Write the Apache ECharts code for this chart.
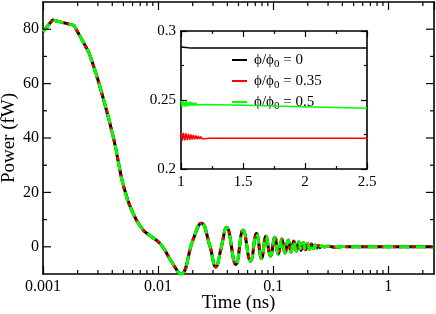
<!DOCTYPE html>
<html><head><meta charset="utf-8">
<script src="https://cdn.jsdelivr.net/npm/echarts@6/dist/echarts.min.js"></script>
<style>html,body{margin:0;padding:0;background:#fff}#c{width:436px;height:314px}</style>
</head><body><div id="c"></div>
<script>
// ---- main plot data (time in ns, power in fW) ----
const mainTime = [0.001, 0.00121, 0.00186, 0.00251, 0.00316, 0.0041, 0.00503, 0.00606, 0.0074, 0.0088, 0.0107, 0.0131, 0.0158, 0.0201, 0.0238, 0.0282, 0.0317, 0.0355, 0.0394, 0.0474, 0.0548, 0.0636, 0.0717, 0.0793, 0.0865, 0.0948, 0.1035, 0.111, 0.119, 0.127, 0.135, 0.143, 0.151, 0.159, 0.167, 0.175, 0.183, 0.191, 0.199, 0.207, 0.215, 0.223, 0.231, 0.239, 0.247, 0.255, 0.263, 0.28, 0.3, 0.35, 0.4, 0.5, 1.0, 2.5];
const mainPower = [79.1, 83.4, 81.4, 71.4, 58.2, 40, 22, 12.3, 6.2, 3.7, 0.6, -5.5, -10, 2.5, 8.7, 0.3, -7.4, 0.0, 7.2, -6.5, 6.2, -5.3, 4.9, -4.3, 3.9, -3.4, 3.5, -2.7, 2.9, -2.3, 2.5, -1.9, 2.1, -1.6, 1.8, -1.3, 1.5, -1.1, 1.2, -0.9, 1.0, -0.7, 0.7, -0.5, 0.5, -0.3, 0.3, 0, 0.2, -0.2, 0.1, 0, 0, 0];
const cornerCount = 4; // first samples joined by straight segments

// ---- inset data ----
const insetTimeBlack = [1.00, 1.01, 1.02, 1.03, 1.04, 1.05, 1.06, 1.08, 2.5];
const insetBlack = [0.2884, 0.2870, 0.2882, 0.2872, 0.2880, 0.2874, 0.2878, 0.2877, 0.2877];
const insetTimeRed = [1.00, 1.01, 1.02, 1.03, 1.04, 1.05, 1.06, 1.07, 1.08, 1.09, 1.10, 1.11, 1.12, 1.13, 1.14, 1.15, 1.16, 1.17, 1.18, 1.19, 1.20, 1.21, 1.22, 1.23, 1.24, 1.26, 1.5, 2.0, 2.5];
const insetRed = [0.2265, 0.2205, 0.2262, 0.2207, 0.2258, 0.2209, 0.2254, 0.2211, 0.2250, 0.2213, 0.2246, 0.2215, 0.2242, 0.2216, 0.2238, 0.2218, 0.2235, 0.2219, 0.2232, 0.2220, 0.2230, 0.2221, 0.2227, 0.2222, 0.2225, 0.2223, 0.2222, 0.2222, 0.2222];
const insetTimeGreen = [1.00, 1.01, 1.02, 1.03, 1.04, 1.05, 1.06, 1.07, 1.08, 1.09, 1.10, 1.11, 1.12, 1.13, 1.14, 1.15, 1.16, 1.17, 1.18, 1.20, 1.5, 2.0, 2.5];
const insetGreen = [0.2494, 0.2450, 0.2492, 0.2452, 0.2490, 0.2454, 0.2488, 0.2456, 0.2485, 0.2458, 0.2482, 0.2461, 0.2479, 0.2463, 0.2476, 0.2465, 0.2473, 0.2466, 0.2471, 0.2468, 0.2462, 0.2451, 0.2440];

// ---- ticks / labels ----
const xTickLabels = ['0.001', '0.01', '0.1', '1'];
const yTickLabels = [0, 20, 40, 60, 80];
const insetXLabels = ['1', '1.5', '2', '2.5'];
const insetYLabels = ['0.2', '0.25', '0.3'];
const legendValues = ['0', '0.35', '0.5'];
const seriesNames = ['phi0', 'phi035', 'phi05'];
const colors = ['#000000', '#ff0000', '#00ff00'];
const yTitle = 'Power (fW)';
const xTitle = 'Time (ns)';

const FONT = 'Liberation Serif';
const X_MIN = 0.001, X_MAX = 2.5, Y_MIN = -10, Y_MAX = 90;

function pairs(xs, ys, from, to) {
  const out = [];
  for (let i = from; i < to; i++) out.push([xs[i], ys[i]]);
  return out;
}

// tick marks for the main frame (minor log ticks and y ticks), drawn through the axes' scales
const tickData = [];
for (let d = -3; d <= 0; d++) {
  for (let m = 2; m <= 9; m++) {
    const v = m * Math.pow(10, d);
    if (v < X_MAX) tickData.push([v, 40, 0, 4]);
  }
}
for (let v = 0; v <= 80; v += 20) tickData.push([0.01, v, 1, 8]);
for (let v = 10; v <= 70; v += 20) tickData.push([0.01, v, 1, 4]);

function renderTick(params, api) {
  const kind = api.value(2), len = api.value(3);
  const st = { stroke: '#000', lineWidth: 1.2 };
  if (kind === 0) {
    const b = api.coord([api.value(0), Y_MIN]);
    const t = api.coord([api.value(0), Y_MAX]);
    return { type: 'group', children: [
      { type: 'line', shape: { x1: b[0], y1: b[1], x2: b[0], y2: b[1] - len }, style: st },
      { type: 'line', shape: { x1: t[0], y1: t[1], x2: t[0], y2: t[1] + len }, style: st }
    ]};
  }
  const l = api.coord([X_MIN, api.value(1)]);
  const r = api.coord([X_MAX, api.value(1)]);
  return { type: 'group', children: [
    { type: 'line', shape: { x1: l[0], y1: l[1], x2: l[0] + len, y2: l[1] }, style: st },
    { type: 'line', shape: { x1: r[0], y1: r[1], x2: r[0] - len, y2: r[1] }, style: st }
  ]};
}

const mainSeries = [];
const dashes = ['solid', [3, 3], [10, 6]];
for (let k = 0; k < 3; k++) {
  const common = {
    type: 'line', xAxisIndex: 0, yAxisIndex: 0, showSymbol: false, symbol: 'none',
    lineStyle: { color: colors[k], width: 3, type: dashes[k] }, itemStyle: { color: colors[k] },
    silent: true, clip: true, z: 3 + k
  };
  mainSeries.push(Object.assign({}, common, { data: pairs(mainTime, mainPower, 0, cornerCount), smooth: false }));
  mainSeries.push(Object.assign({}, common, { data: pairs(mainTime, mainPower, cornerCount - 1, mainTime.length), smooth: 0.45 }));
}

const insetSeries = [
  [insetTimeBlack, insetBlack], [insetTimeRed, insetRed], [insetTimeGreen, insetGreen]
].map((d, k) => ({
  type: 'line', name: seriesNames[k], xAxisIndex: 2, yAxisIndex: 2, showSymbol: false, symbol: 'none',
  data: pairs(d[0], d[1], 0, d[0].length),
  lineStyle: { color: colors[k], width: 1.5 }, itemStyle: { color: colors[k] }, silent: true, z: 5
}));

const axisLineStyle = { show: true, onZero: false, lineStyle: { color: '#000', width: 1.6 } };

const option = {
  animation: false,
  backgroundColor: '#fff',
  grid: [
    { left: 43, top: 2, right: 2, bottom: 40, outerBoundsMode: 'none', containLabel: false },
    { left: 181, top: 31, width: 186, height: 138, show: true, backgroundColor: '#fff', borderWidth: 0, outerBoundsMode: 'none', containLabel: false }
  ],
  graphic: [
    { type: 'text', x: 9, y: 138, rotation: Math.PI / 2, silent: true,
      style: { text: yTitle, fontFamily: FONT, fontSize: 19, fill: '#000', align: 'center', verticalAlign: 'middle' } }
  ],
  legend: {
    data: seriesNames, orient: 'vertical', left: 232, top: 50, itemGap: 1, padding: 0,
    icon: 'rect', itemWidth: 15, itemHeight: 2, selectedMode: false,
    formatter: function (name) {
      const i = seriesNames.indexOf(name);
      return '{g|}{a|ϕ/ϕ}{s|0}{a| = ' + legendValues[i] + '}';
    },
    textStyle: {
      color: '#000', fontFamily: FONT, fontSize: 15,
      rich: {
        g: { width: 2 },
        a: { fontFamily: FONT, fontSize: 15, color: '#000', lineHeight: 18 },
        s: { fontFamily: FONT, fontSize: 11, color: '#000', lineHeight: 18, padding: [9, 0, 0, 0] }
      }
    }
  },
  xAxis: [
    { type: 'log', logBase: 10, gridIndex: 0, min: X_MIN, max: X_MAX, position: 'bottom',
      name: xTitle, nameLocation: 'middle', nameGap: 20, nameMoveOverlap: false,
      nameTextStyle: { fontFamily: FONT, fontSize: 19, color: '#000' },
      axisLine: axisLineStyle,
      axisTick: { show: true, inside: true, length: 8, lineStyle: { color: '#000', width: 1.2 } },
      axisLabel: { show: true, margin: 5, fontFamily: FONT, fontSize: 16, color: '#000', showMaxLabel: false,
        formatter: function (v) {
          for (const l of xTickLabels) if (Math.abs(Math.log10(v) - Math.log10(parseFloat(l))) < 1e-6) return l;
          return '';
        } },
      splitLine: { show: false }, minorTick: { show: false } },
    { type: 'log', logBase: 10, gridIndex: 0, min: X_MIN, max: X_MAX, position: 'top',
      axisLine: axisLineStyle,
      axisTick: { show: true, inside: true, length: 8, lineStyle: { color: '#000', width: 1.2 } },
      axisLabel: { show: false }, splitLine: { show: false } },
    { type: 'value', gridIndex: 1, min: 1, max: 2.5, interval: 0.5, position: 'bottom',
      axisLine: axisLineStyle,
      axisTick: { show: true, inside: true, length: 6, lineStyle: { color: '#000', width: 1.2 } },
      minorTick: { show: true, splitNumber: 2, length: 3, lineStyle: { color: '#000', width: 1.2 } },
      axisLabel: { show: true, margin: 6, fontFamily: FONT, fontSize: 15, color: '#000',
        formatter: function (v) {
          for (const l of insetXLabels) if (Math.abs(v - parseFloat(l)) < 1e-6) return l;
          return '';
        } },
      splitLine: { show: false } },
    { type: 'value', gridIndex: 1, min: 1, max: 2.5, interval: 0.5, position: 'top',
      axisLine: axisLineStyle,
      axisTick: { show: true, inside: true, length: 6, lineStyle: { color: '#000', width: 1.2 } },
      minorTick: { show: true, splitNumber: 2, length: 3, lineStyle: { color: '#000', width: 1.2 } },
      axisLabel: { show: false }, splitLine: { show: false } }
  ],
  yAxis: [
    { type: 'value', gridIndex: 0, min: Y_MIN, max: Y_MAX, interval: 10, position: 'left',
      axisLine: axisLineStyle, axisTick: { show: false },
      axisLabel: { show: true, margin: 4, fontFamily: FONT, fontSize: 16, color: '#000',
        formatter: function (v) { return yTickLabels.indexOf(v) >= 0 ? String(v) : ''; } },
      splitLine: { show: false } },
    { type: 'value', gridIndex: 0, min: Y_MIN, max: Y_MAX, interval: 10, position: 'right',
      axisLine: axisLineStyle, axisTick: { show: false }, axisLabel: { show: false }, splitLine: { show: false } },
    { type: 'value', gridIndex: 1, min: 0.2, max: 0.3, interval: 0.05, position: 'left',
      axisLine: axisLineStyle,
      axisTick: { show: true, inside: true, length: 6, lineStyle: { color: '#000', width: 1.2 } },
      minorTick: { show: true, splitNumber: 2, length: 3, lineStyle: { color: '#000', width: 1.2 } },
      axisLabel: { show: true, margin: 5, fontFamily: FONT, fontSize: 15, color: '#000',
        formatter: function (v) {
          for (const l of insetYLabels) if (Math.abs(v - parseFloat(l)) < 1e-6) return l;
          return '';
        } },
      splitLine: { show: false } },
    { type: 'value', gridIndex: 1, min: 0.2, max: 0.3, interval: 0.05, position: 'right',
      axisLine: axisLineStyle,
      axisTick: { show: true, inside: true, length: 6, lineStyle: { color: '#000', width: 1.2 } },
      minorTick: { show: true, splitNumber: 2, length: 3, lineStyle: { color: '#000', width: 1.2 } },
      axisLabel: { show: false }, splitLine: { show: false } }
  ],
  series: [
    { type: 'custom', xAxisIndex: 0, yAxisIndex: 0, data: tickData, renderItem: renderTick, silent: true, clip: false, z: 10 }
  ].concat(mainSeries).concat(insetSeries)
};

const chart = echarts.init(document.getElementById('c'), null, { renderer: 'canvas' });
chart.setOption(option);
</script>
</body></html>
